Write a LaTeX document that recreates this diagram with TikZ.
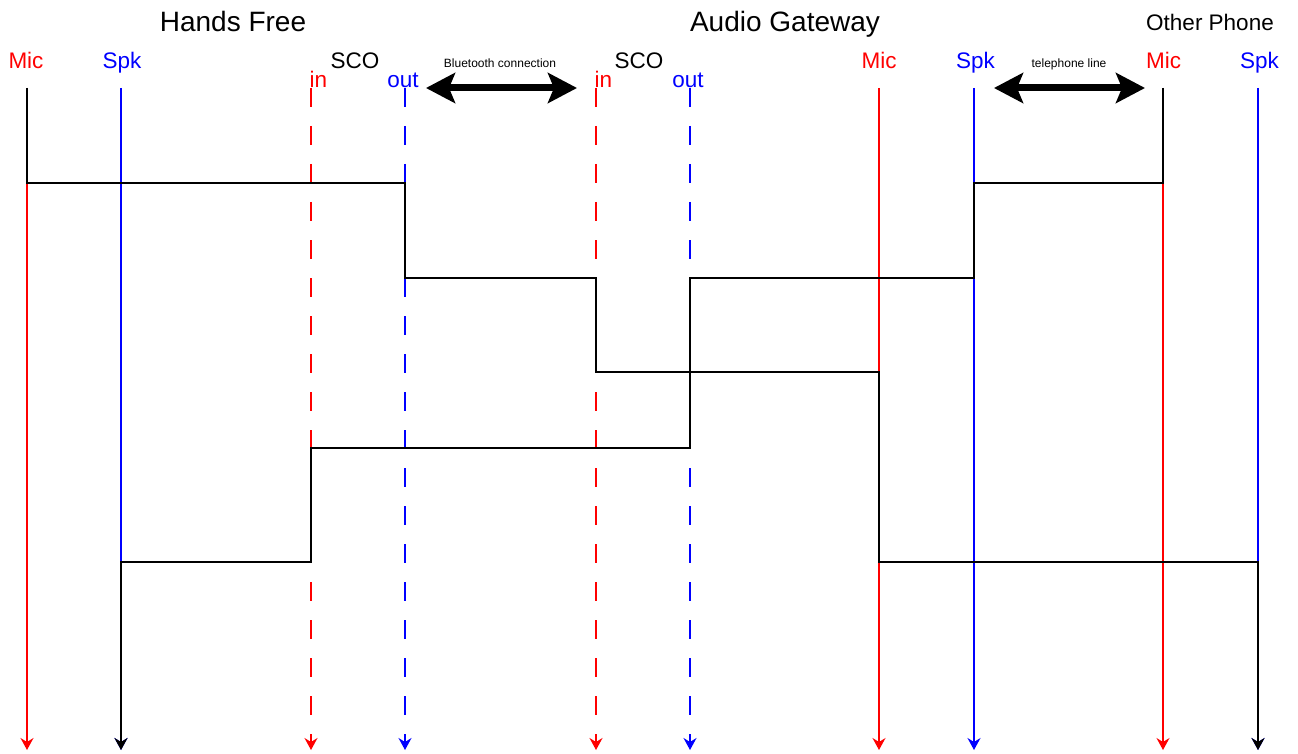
\documentclass[tikz,border=0pt]{standalone}
\usepackage{fontspec}
\setmainfont{Liberation Sans}
\usetikzlibrary{arrows.meta, positioning}
\tikzset{
  title/.style={inner sep=0pt, anchor=base, font=\fontsize{28}{30}\selectfont},
  lbl/.style={inner sep=0pt, anchor=base, font=\fontsize{22.5}{24}\selectfont},
  note/.style={inner sep=0pt, anchor=base, font=\fontsize{12}{14}\selectfont},
  tip/.style={-{Stealth[length=12pt,width=13pt,inset=4pt]}},
  micln/.style={tip, draw=red, line width=1.4pt},
  spkln/.style={tip, draw=blue, line width=1.4pt},
  inln/.style={micln, dash pattern=on 19pt off 19pt},
  outln/.style={spkln, dash pattern=on 19pt off 19pt},
  sig/.style={tip, draw=black, line width=2.2pt},
  link/.style={line width=7pt,
               {Stealth[length=29pt,width=30pt,inset=6pt]}-{Stealth[length=29pt,width=30pt,inset=6pt]}},
}

\begin{document}
\begin{tikzpicture}[x=1pt, y=-1pt]
  \useasboundingbox (0,0) rectangle (1298,754);

  %% === Titles ===
  \node[title] (hf) at (233,32)  {Hands Free};
  \node[title] (ag) at (785,32)  {Audio Gateway};
  \node[lbl]   (op) at (1210,31) {Other Phone};

  %% === Column labels ===
  \node[lbl, red]  (hfmicL) at (26,69)   {Mic};
  \node[lbl, blue] (hfspkL) at (122,69)  {Spk};
  \node[lbl]       (hfscoL) at (355,69)  {SCO};
  \node[lbl, red, anchor=base west] (hfinL) at (309.5,88) {in};
  \node[lbl, blue] (hfoutL) at (403,88)  {out};
  \node[lbl]       (agscoL) at (639,69)  {SCO};
  \node[lbl, red, anchor=base west] (aginL) at (594.5,88) {in};
  \node[lbl, blue] (agoutL) at (688,88)  {out};
  \node[lbl, red]  (agmicL) at (879,69)  {Mic};
  \node[lbl, blue] (agspkL) at (975.5,69) {Spk};
  \node[lbl, red]  (opmicL) at (1163.5,69) {Mic};
  \node[lbl, blue] (opspkL) at (1259.5,69) {Spk};

  %% === Column tops, levels ===
  \coordinate (hfmic) at (27,88);
  \coordinate (hfspk) at (121,88);
  \coordinate (hfin)  at (311,88);
  \coordinate (hfout) at (405,88);
  \coordinate (agin)  at (596,88);
  \coordinate (agout) at (690,88);
  \coordinate (agmic) at (879,88);
  \coordinate (agspk) at (974,88);
  \coordinate (opmic) at (1163,88);
  \coordinate (opspk) at (1258,88);
  \coordinate (l1)  at (0,183);
  \coordinate (l2)  at (0,278);
  \coordinate (l3)  at (0,372);
  \coordinate (l4)  at (0,448);
  \coordinate (l5)  at (0,562);
  \coordinate (bot) at (0,750);

  %% === Links ===
  \coordinate (bt1) at (426,88);
  \coordinate (bt2) at (577,88);
  \coordinate (tl1) at (994,88);
  \coordinate (tl2) at (1145,88);
  \draw[link] (bt1) -- (bt2);
  \draw[link] (tl1) -- (tl2);
  \node[note] (btL) at (500,68)  {Bluetooth connection};
  \node[note] (tlL) at (1069,68) {telephone line};

  %% === Columns ===
  \draw[micln] (hfmic) -- (hfmic |- bot);
  \draw[spkln] (hfspk) -- (hfspk |- bot);
  \draw[inln]  (hfin)  -- (hfin |- bot);
  \draw[outln] (hfout) -- (hfout |- bot);
  \draw[inln]  (agin)  -- (agin |- bot);
  \draw[outln] (agout) -- (agout |- bot);
  \draw[micln] (agmic) -- (agmic |- bot);
  \draw[spkln] (agspk) -- (agspk |- bot);
  \draw[micln] (opmic) -- (opmic |- bot);
  \draw[spkln] (opspk) -- (opspk |- bot);

  %% === Uplink: hands free mic -> other phone spk ===
  \draw[sig] (hfmic) -- (hfmic |- l1) -- (hfout |- l1) -- (hfout |- l2)
    -- (agin |- l2) -- (agin |- l3) -- (agmic |- l3) -- (agmic |- l5)
    -- (opspk |- l5) -- (opspk |- bot);

  %% === Downlink: other phone mic -> hands free spk ===
  \draw[sig] (opmic) -- (opmic |- l1) -- (agspk |- l1) -- (agspk |- l2)
    -- (agout |- l2) -- (agout |- l4) -- (hfin |- l4) -- (hfin |- l5)
    -- (hfspk |- l5) -- (hfspk |- bot);
\end{tikzpicture}
\end{document}
